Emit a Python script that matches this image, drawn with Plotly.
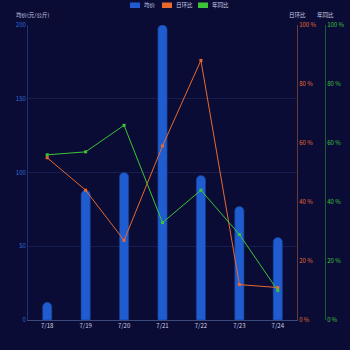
import plotly.graph_objects as go

# Daily data
dates = ["7/18", "7/19", "7/20", "7/21", "7/22", "7/23", "7/24"]
avg_price = [12, 88, 100, 200, 98, 77, 56]          # 均价 (元/公斤)
day_on_day = [55, 44, 27, 59, 88, 12, 11]           # 日环比 (%)
year_on_year = [56, 57, 66, 33, 44, 29, 10]         # 年同比 (%)

series_names = ["均价", "日环比", "年同比"]

BG = "#0a0c36"
BAR_BLUE = "#1f5cd0"
ORANGE = "#e8692e"
GREEN = "#3cc437"
FONT = "Noto Sans CJK SC"
TXT = "#d0d3e8"

W, H = 350, 350
left, right_m, top, bottom = 28, 20, 25, 30
plot_w = W - left - right_m
plot_h = H - top - bottom
dom_end = 269 / plot_w
y3_pos = (325 - left) / plot_w


def px_x(p):
    return (p - left) / plot_w


def px_y(p):
    return (H - bottom - p) / plot_h


fig = go.Figure()

fig.add_trace(go.Bar(
    x=dates, y=avg_price, name=series_names[0],
    marker=dict(color=BAR_BLUE, cornerradius=5,
                line=dict(color="#1a3a8a", width=0.6)),
    width=0.24, yaxis="y",
))

fig.add_trace(go.Scatter(
    x=dates, y=day_on_day, name=series_names[1], yaxis="y2", mode="lines+markers",
    line=dict(color=ORANGE, width=1),
    marker=dict(symbol="square", size=3, color=ORANGE),
))

fig.add_trace(go.Scatter(
    x=dates, y=year_on_year, name=series_names[2], yaxis="y3", mode="lines+markers",
    line=dict(color=GREEN, width=1),
    marker=dict(symbol="square", size=3, color=GREEN),
))

fig.update_layout(
    width=W, height=H,
    paper_bgcolor=BG, plot_bgcolor=BG,
    margin=dict(l=left, r=right_m, t=top, b=bottom, autoexpand=False),
    font=dict(family=FONT, size=6, color=TXT),
    showlegend=False,
    xaxis=dict(domain=[0, dom_end], showgrid=False, showline=True,
               linecolor="#3a4a7a", linewidth=1, ticks="",
               tickfont=dict(size=6, color=TXT), fixedrange=True),
    yaxis=dict(range=[0, 200], dtick=50, showgrid=True, gridcolor="#161d4f",
               gridwidth=1, showline=True, linecolor="#1d3275", linewidth=1,
               zeroline=False, tickfont=dict(size=6, color="#2f6bd6"),
               ticks=""),
    yaxis2=dict(range=[0, 100], dtick=20, overlaying="y", side="right",
                anchor="x", showgrid=False, showline=True, linecolor="#6a3a3a",
                linewidth=1, zeroline=False, ticksuffix=" %",
                tickfont=dict(size=6, color=ORANGE), ticks=""),
    yaxis3=dict(range=[0, 100], dtick=20, overlaying="y", side="right",
                anchor="free", position=y3_pos, showgrid=False,
                showline=True, linecolor="#1e5a32", linewidth=1, zeroline=False,
                ticksuffix=" %", tickfont=dict(size=6, color=GREEN), ticks=""),
)

# legend row at the top: rounded swatch + label
legend_items = [(series_names[0], BAR_BLUE, 130),
                (series_names[1], ORANGE, 162),
                (series_names[2], GREEN, 198)]
for name, col, x0 in legend_items:
    fig.add_shape(type="rect", xref="paper", yref="paper",
                  x0=px_x(x0), x1=px_x(x0 + 10), y0=px_y(8), y1=px_y(2.5),
                  fillcolor=col, line=dict(width=0))
    fig.add_annotation(text=name, xref="paper", yref="paper",
                       x=px_x(x0 + 12), y=px_y(5.3), xanchor="left",
                       yanchor="middle", showarrow=False,
                       font=dict(size=5.5, color=TXT))

# axis titles
fig.add_annotation(text="均价(元/公斤)", xref="paper", yref="paper", x=px_x(14), y=px_y(15),
                   xanchor="left", yanchor="middle", showarrow=False,
                   font=dict(size=5.5, color=TXT))
fig.add_annotation(text="日环比", xref="paper", yref="paper", x=dom_end, y=px_y(15),
                   xanchor="center", yanchor="middle", showarrow=False,
                   font=dict(size=5.5, color=TXT))
fig.add_annotation(text="年同比", xref="paper", yref="paper", x=y3_pos, y=px_y(15),
                   xanchor="center", yanchor="middle", showarrow=False,
                   font=dict(size=5.5, color=TXT))

fig.write_html("out.html")
